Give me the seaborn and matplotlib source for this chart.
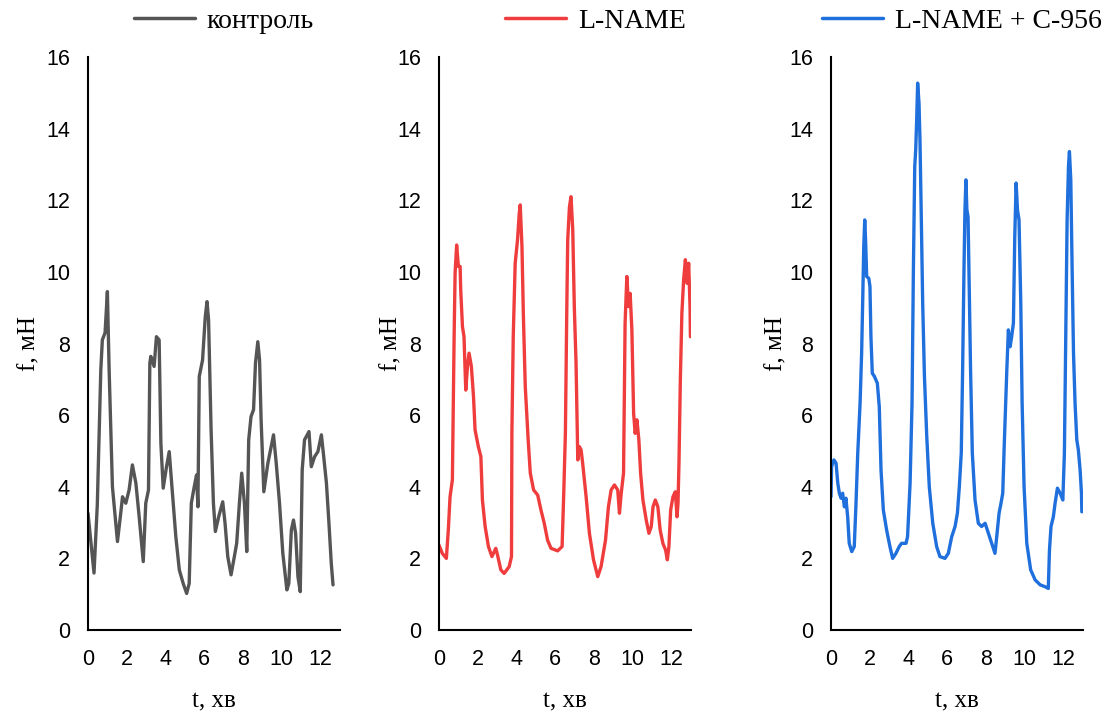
import numpy as np
import pandas as pd
import matplotlib
matplotlib.use("Agg")
import matplotlib.pyplot as plt
import seaborn as sns

# --- series: time (min) and force (mN) ---
t_control = [0.00, 0.31, 0.48, 0.66, 0.74, 0.88, 1.00, 1.09, 1.26, 1.52, 1.69, 1.78, 1.95, 2.12,
             2.29, 2.47, 2.64, 2.85, 2.98, 3.12, 3.19, 3.24, 3.41, 3.53, 3.67, 3.76, 3.88, 4.05,
             4.19, 4.33, 4.53, 4.71, 4.91, 5.09, 5.22, 5.33, 5.48, 5.60, 5.67, 5.74, 5.91, 6.05,
             6.14, 6.22, 6.35, 6.47, 6.57, 6.74, 6.95, 7.07, 7.21, 7.38, 7.55, 7.67, 7.81, 7.93,
             8.07, 8.19, 8.29, 8.41, 8.54, 8.64, 8.76, 8.85, 8.93, 9.07, 9.28, 9.45, 9.57, 9.71,
             9.88, 10.05, 10.26, 10.36, 10.49, 10.60, 10.71, 10.83, 10.95, 11.05, 11.17, 11.40,
             11.52, 11.69, 11.86, 12.04, 12.16, 12.30, 12.43, 12.55, 12.64]
f_control = [3.26, 1.59, 3.50, 7.26, 8.10, 8.30, 9.45, 7.26, 4.00, 2.47, 3.27, 3.72, 3.54, 3.91,
             4.61, 4.10, 3.16, 1.91, 3.54, 3.91, 7.45, 7.64, 7.36, 8.19, 8.10, 5.21, 3.96, 4.56,
             4.98, 4.00, 2.61, 1.68, 1.30, 1.02, 1.30, 3.54, 4.00, 4.33, 3.44, 7.08, 7.54, 8.75,
             9.17, 8.66, 5.59, 3.54, 2.75, 3.16, 3.58, 2.98, 2.05, 1.54, 2.05, 2.42, 3.54, 4.38,
             3.54, 2.19, 5.31, 5.96, 6.15, 7.45, 8.05, 7.54, 5.87, 3.86, 4.66, 5.12, 5.45, 4.66,
             3.54, 2.14, 1.12, 1.30, 2.79, 3.07, 2.70, 1.49, 1.07, 4.47, 5.31, 5.54,
             4.56, 4.84, 4.98, 5.45, 4.84, 4.10, 2.98, 1.86, 1.26]

t_lname = [0.00, 0.17, 0.38, 0.48, 0.57, 0.69, 0.78, 0.83, 0.91, 1.00, 1.09, 1.12, 1.21, 1.29,
           1.38, 1.47, 1.55, 1.67, 1.78, 1.86, 2.03, 2.16, 2.24, 2.38, 2.55, 2.73, 2.93, 3.02,
           3.19, 3.36, 3.62, 3.74, 3.76, 3.83, 3.93, 4.05, 4.14, 4.19, 4.28, 4.35, 4.45, 4.60,
           4.71, 4.88, 5.09, 5.26, 5.43, 5.60, 5.78, 6.12, 6.35, 6.43, 6.52, 6.59, 6.64, 6.73,
           6.81, 6.90, 6.98, 7.07, 7.16, 7.24, 7.33, 7.41, 7.59, 7.76, 7.97, 8.19, 8.36, 8.59,
           8.74, 8.88, 9.05, 9.22, 9.31, 9.40, 9.52, 9.60, 9.69, 9.78, 9.86, 9.95, 10.04, 10.12,
           10.21, 10.31, 10.40, 10.52, 10.69, 10.83, 10.95, 11.04, 11.16, 11.29, 11.41, 11.55,
           11.69, 11.78, 11.86, 11.95, 12.07, 12.19, 12.28, 12.33, 12.38, 12.45, 12.53, 12.62,
           12.71, 12.80, 12.88, 12.95, 12.97]
f_lname = [2.37, 2.14, 2.00, 2.79, 3.72, 4.19, 8.19, 9.96, 10.75, 10.15, 10.15, 9.50, 8.47, 8.19,
           6.70, 7.36, 7.73, 7.36, 6.52, 5.59, 5.12, 4.84, 3.63, 2.89, 2.33, 2.05, 2.28, 2.09,
           1.68, 1.58, 1.77, 2.05, 5.49, 8.19, 10.24, 10.89, 11.64, 11.87, 10.71, 8.85, 6.80, 5.31,
           4.38, 3.91, 3.77, 3.35, 2.98, 2.51, 2.28, 2.21, 2.33, 3.72, 5.49, 8.85, 10.89, 11.82,
           12.10, 11.17, 9.03, 7.45, 4.75, 5.12, 5.03, 4.66, 3.72, 2.70, 1.96, 1.49, 1.77, 2.51,
           3.44, 3.91, 4.05, 3.91, 3.26, 3.82, 4.38, 8.57, 9.87, 9.03, 9.40, 8.38, 6.05, 5.49,
           5.87, 5.31, 4.38, 3.63, 3.07, 2.70, 2.89, 3.44, 3.63, 3.44, 2.79, 2.42,
           2.23, 1.96, 2.33, 3.35, 3.72, 3.86, 3.16, 3.54, 4.66, 6.98, 8.85, 9.78,
           10.34, 9.68, 10.24, 9.03, 8.19]

t_combo = [0.00, 0.03, 0.15, 0.26, 0.35, 0.43, 0.52, 0.60, 0.69, 0.77, 0.86, 0.94, 1.07, 1.20,
           1.29, 1.38, 1.50, 1.58, 1.64, 1.69, 1.74, 1.79, 1.84, 1.95, 2.01, 2.06, 2.13, 2.24,
           2.39, 2.49, 2.58, 2.70, 2.87, 3.04, 3.18, 3.35, 3.52, 3.64, 3.87, 3.95, 4.08, 4.18,
           4.25, 4.32, 4.37, 4.42, 4.47, 4.54, 4.59, 4.66, 4.73, 4.82, 4.94, 5.07, 5.25, 5.45,
           5.62, 5.88, 6.05, 6.23, 6.40, 6.52, 6.62, 6.72, 6.79, 6.86, 6.91, 6.96, 7.01, 7.07,
           7.13, 7.20, 7.29, 7.43, 7.60, 7.77, 7.95, 8.12, 8.29, 8.46, 8.55, 8.67, 8.77, 8.86,
           8.94, 9.07, 9.15, 9.24, 9.32, 9.41, 9.48, 9.55, 9.62, 9.70, 9.79, 9.86, 9.96, 10.10,
           10.30, 10.53, 10.79, 11.04, 11.21, 11.27, 11.35, 11.47, 11.56, 11.68, 11.82, 11.96,
           12.04, 12.11, 12.18, 12.25, 12.30, 12.37, 12.44, 12.51, 12.59, 12.68, 12.76, 12.85,
           12.92, 12.94]
f_combo = [3.72, 4.56, 4.75, 4.66, 4.10, 3.82, 3.68, 3.82, 3.44, 3.68, 3.16, 2.42, 2.19, 2.33,
           3.54, 4.94, 6.33, 7.73, 9.31, 10.71, 11.45, 10.80, 9.87, 9.82, 9.59, 8.19, 7.17, 7.08,
           6.89, 6.24, 4.47, 3.35, 2.79, 2.33, 2.00, 2.14, 2.33, 2.42, 2.42, 2.61, 4.10, 6.33,
           10.06, 12.94, 13.41, 14.25, 15.27, 14.71, 13.69, 11.45, 9.13, 7.08, 5.40, 4.00, 2.98, 2.33,
           2.05, 2.00, 2.14, 2.61, 2.89, 3.26, 4.00, 4.94, 7.26, 10.06, 11.73, 12.57, 11.73, 11.54,
           9.59, 7.26, 4.94, 3.63, 2.98, 2.89, 2.98, 2.70, 2.42, 2.14, 2.61, 3.26, 3.54, 3.82,
           5.21, 7.26, 8.38, 7.91, 8.19, 8.57, 10.99, 12.48, 11.73, 11.45, 9.13, 6.33, 4.00, 2.42,
           1.68, 1.40, 1.26, 1.21, 1.16, 2.23, 2.89, 3.16, 3.54, 3.96, 3.82, 3.63,
           4.94, 8.19, 11.45, 12.94, 13.36, 12.57, 10.06, 7.73, 6.33, 5.31, 5.03, 4.47,
           3.82, 3.30]

series_names = ["контроль", "L-NAME", "L-NAME + C-956"]
series_t = [t_control, t_lname, t_combo]
series_f = [f_control, f_lname, f_combo]
colors = ["#555555", "#ef3c3c", "#1f6fdc"]

y_ticks = [0, 2, 4, 6, 8, 10, 12, 14, 16]
x_ticks = [0, 2, 4, 6, 8, 10, 12]

sns.set_theme(style="white")
plt.rcParams["font.family"] = ["Liberation Sans", "DejaVu Sans"]
serif = ["Liberation Serif", "DejaVu Serif"]

W, H = 1106, 717
fig = plt.figure(figsize=(W / 100, H / 100), dpi=100)

# axes boxes in pixels: left edges, shared width, top and bottom
lefts = [88, 439, 831]
ax_w = 252
top_px, bot_px = 57, 630
legend_x = [134, 505, 822]
ylabel_right = [40, 402, 787]

for i in range(3):
    ax = fig.add_axes([lefts[i] / W, (H - bot_px) / H, ax_w / W, (bot_px - top_px) / H])
    df = pd.DataFrame({"t": series_t[i], "f": series_f[i], "series": series_names[i]})
    sns.lineplot(data=df, x="t", y="f", hue="series", palette=[colors[i]],
                 sort=False, estimator=None, ax=ax, linewidth=2.4, legend=True)
    ax.set_xlim(0, 13)
    ax.set_ylim(0, 16)
    ax.set_xticks(x_ticks)
    ax.set_yticks(y_ticks)
    ax.set_xticklabels([str(v) for v in x_ticks])
    ax.set_yticklabels([str(v) for v in y_ticks])
    ax.tick_params(axis="both", length=0, labelsize=15.5, colors="black")
    ax.tick_params(axis="x", pad=14)
    ax.tick_params(axis="y", pad=13)
    for s in ["top", "right"]:
        ax.spines[s].set_visible(False)
    for s in ["left", "bottom"]:
        ax.spines[s].set_color("black")
        ax.spines[s].set_linewidth(1.5)
    ax.grid(False)

    ax.set_xlabel("t, хв", family=serif, fontsize=18, color="black")
    ax.set_ylabel("f, мН", family=serif, fontsize=18, color="black")
    ax.xaxis.set_label_coords(0.5, -(690 - bot_px) / (bot_px - top_px))
    ax.yaxis.set_label_coords((ylabel_right[i] - lefts[i]) / ax_w, 0.5)

    leg = ax.legend(loc="center left", bbox_to_anchor=(legend_x[i] / W, 1 - 21 / H),
                    bbox_transform=fig.transFigure, frameon=False, borderpad=0,
                    borderaxespad=0, handlelength=2.2, handletextpad=0.42,
                    prop={"family": serif, "size": 20})
    for line in leg.get_lines():
        line.set_linewidth(2.5)
    for txt in leg.get_texts():
        txt.set_color("black")

fig.savefig("out.png", dpi=100)
